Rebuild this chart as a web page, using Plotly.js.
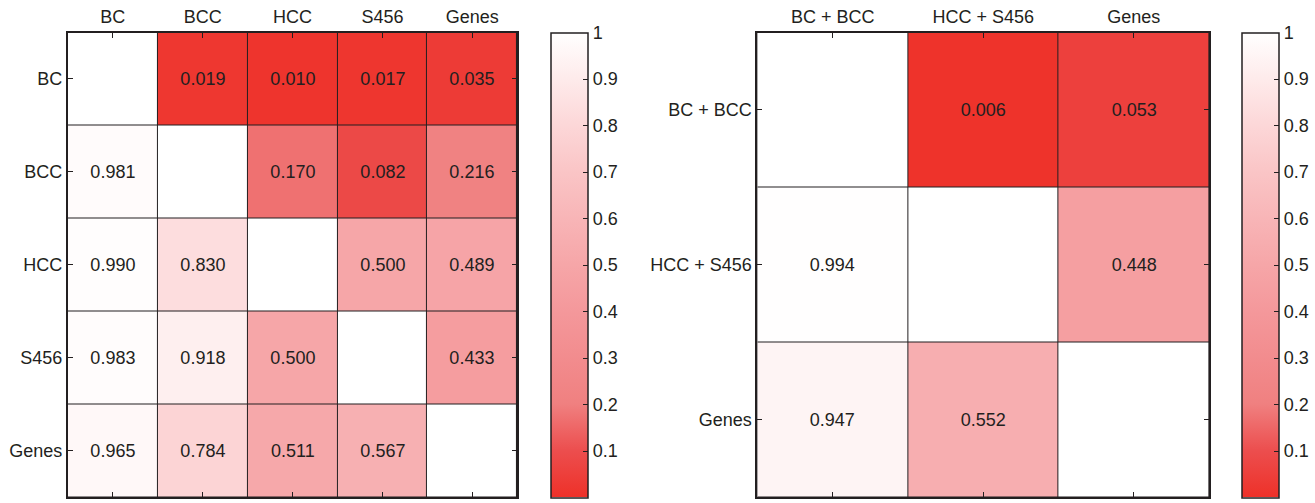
<!DOCTYPE html>
<html>
<head>
<meta charset="utf-8">
<script src="https://cdn.plot.ly/plotly-3.0.1.min.js"></script>
<style>html,body{margin:0;padding:0;background:#fff;}#chart{width:1315px;height:503px;}</style>
</head>
<body>
<div id="chart"></div>
<script>
// ---- Data ----
var leftLabels = ['BC', 'BCC', 'HCC', 'S456', 'Genes'];
var leftRowBC    = [null, 0.019, 0.010, 0.017, 0.035];
var leftRowBCC   = [0.981, null, 0.170, 0.082, 0.216];
var leftRowHCC   = [0.990, 0.830, null, 0.500, 0.489];
var leftRowS456  = [0.983, 0.918, 0.500, null, 0.433];
var leftRowGenes = [0.965, 0.784, 0.511, 0.567, null];

var rightLabels = ['BC + BCC', 'HCC + S456', 'Genes'];
var rightRowBCBCC   = [null, 0.006, 0.053];
var rightRowHCCS456 = [0.994, null, 0.448];
var rightRowGenes   = [0.947, 0.552, null];

var colorbarTicks = [0, 0.1, 0.2, 0.3, 0.4, 0.5, 0.6, 0.7, 0.8, 0.9, 1];

// ---- Build ----
var leftZ = [leftRowBC, leftRowBCC, leftRowHCC, leftRowS456, leftRowGenes];
var rightZ = [rightRowBCBCC, rightRowHCCS456, rightRowGenes];

function diagMask(z) {
  return z.map(function (row, i) { return row.map(function (v, j) { return i === j ? 1 : null; }); });
}

var ink = '#231f20';
var fontFam = '"Liberation Sans", Arial, Helvetica, sans-serif';
var fs = 18;
var cscale = [
  [0.0, 'rgb(238,49,41)'],
  [0.1, 'rgb(236,78,78)'],
  [0.2, 'rgb(240,128,128)'],
  [0.3, 'rgb(242,140,142)'],
  [0.4, 'rgb(244,152,155)'],
  [0.5, 'rgb(246,166,168)'],
  [0.6, 'rgb(248,181,183)'],
  [0.7, 'rgb(250,197,198)'],
  [0.8, 'rgb(252,215,216)'],
  [0.9, 'rgb(254,235,235)'],
  [1.0, 'rgb(255,255,255)']
];

function colorbar(xpos) {
  return {
    x: xpos, xanchor: 'left', xref: 'paper',
    y: 1 - 32.5 / 503, yanchor: 'top', yref: 'paper',
    len: 464.5, lenmode: 'pixels',
    thickness: 37, thicknessmode: 'pixels',
    outlinewidth: 1.5, outlinecolor: ink,
    tickmode: 'array', tickvals: colorbarTicks,
    ticktext: colorbarTicks.map(function (t) { return String(t); }),
    ticks: 'inside', ticklen: 5, tickcolor: ink, tickwidth: 1,
    tickfont: {family: fontFam, size: fs, color: ink},
    xpad: 0, ypad: 0, borderwidth: 0
  };
}

function mainTrace(z, labels, xa, ya, cbx) {
  var idx = labels.map(function (_, i) { return i; });
  return {
    type: 'heatmap', z: z, x: idx, y: idx, xaxis: xa, yaxis: ya,
    zmin: 0, zmax: 1, colorscale: cscale,
    xgap: 1, ygap: 1,
    texttemplate: '%{z:.3f}',
    textfont: {family: fontFam, size: fs, color: ink},
    showscale: true, colorbar: colorbar(cbx),
    hoverinfo: 'skip'
  };
}
function diagTrace(z, labels, xa, ya) {
  var idx = labels.map(function (_, i) { return i; });
  return {
    type: 'heatmap', z: diagMask(z), x: idx, y: idx, xaxis: xa, yaxis: ya,
    zmin: 0, zmax: 1, colorscale: [[0, '#ffffff'], [1, '#ffffff']],
    xgap: 1, ygap: 1, showscale: false, hoverinfo: 'skip'
  };
}

function xAxis(labels, domain, anchor) {
  var idx = labels.map(function (_, i) { return i; });
  return {
    domain: domain, anchor: anchor, side: 'top',
    range: [-0.5, labels.length - 0.5], tickmode: 'array', tickvals: idx, ticktext: labels,
    ticks: 'inside', ticklen: 5, tickcolor: ink, tickwidth: 1,
    showline: true, linecolor: ink, linewidth: 2, mirror: 'ticks',
    showgrid: false, zeroline: false,
    tickfont: {family: fontFam, size: fs, color: ink}, fixedrange: true
  };
}
function yAxis(labels, anchor) {
  var idx = labels.map(function (_, i) { return i; });
  return {
    domain: [1 - 497 / 503, 1 - 32.5 / 503], anchor: anchor,
    range: [labels.length - 0.5, -0.5], tickmode: 'array', tickvals: idx, ticktext: labels,
    ticks: 'inside', ticklen: 5, tickcolor: ink, tickwidth: 1,
    showline: true, linecolor: ink, linewidth: 2, mirror: 'ticks',
    showgrid: false, zeroline: false,
    tickfont: {family: fontFam, size: fs, color: ink}, fixedrange: true
  };
}

var data = [
  mainTrace(leftZ, leftLabels, 'x', 'y', 552 / 1315),
  diagTrace(leftZ, leftLabels, 'x', 'y'),
  mainTrace(rightZ, rightLabels, 'x2', 'y2', 1243.5 / 1315),
  diagTrace(rightZ, rightLabels, 'x2', 'y2')
];

var layout = {
  width: 1315, height: 503,
  margin: {l: 0, r: 0, t: 0, b: 0, pad: 0},
  paper_bgcolor: '#ffffff', plot_bgcolor: ink,
  showlegend: false,
  xaxis: xAxis(leftLabels, [68 / 1315, 518 / 1315], 'y'),
  yaxis: yAxis(leftLabels, 'x'),
  xaxis2: xAxis(rightLabels, [758.5 / 1315, 1211 / 1315], 'y2'),
  yaxis2: yAxis(rightLabels, 'x2')
};

Plotly.newPlot('chart', data, layout, {staticPlot: true, displayModeBar: false});
</script>
</body>
</html>
